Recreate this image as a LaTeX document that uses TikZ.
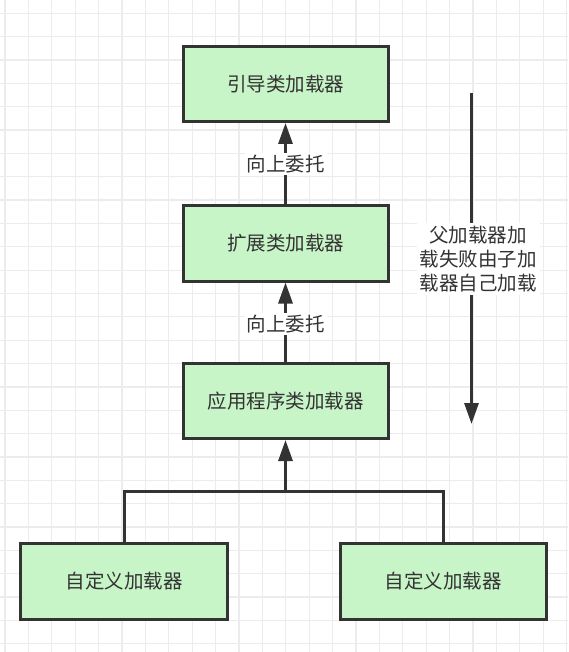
\documentclass[tikz,border=0pt]{standalone}
\usepackage{fontspec}
\newfontfamily\cjk{Noto Sans CJK SC}
\usetikzlibrary{arrows.meta}
\definecolor{boxfill}{HTML}{C8F5C8}
\definecolor{ink}{HTML}{333333}
\definecolor{gridc}{HTML}{ECECEC}
\tikzset{
  loader/.style={draw=ink, line width=3pt, fill=boxfill, minimum width=205pt, minimum height=75pt, inner sep=0pt, text=ink, font=\cjk\fontsize{19.5}{24}\selectfont},
  arr/.style={draw=ink, line width=3pt, -{Triangle[length=21pt,width=14pt]}},
  conn/.style={draw=ink, line width=3pt},
  lbl/.style={fill=white, text=ink, inner sep=2pt, font=\cjk\fontsize{19.5}{24}\selectfont}
}
\begin{document}
\begin{tikzpicture}[x=1pt,y=-1pt]
\useasboundingbox (0,0) rectangle (568,652);
\fill[white] (0,0) rectangle (568,652);
\foreach \i in {0,...,24} \draw[gridc, line width=1.2pt] ({5+23.4*\i},0) -- ({5+23.4*\i},652);
\foreach \j in {0,...,27} \draw[gridc, line width=1.2pt] (0,{13.3+23.35*\j}) -- (568,{13.3+23.35*\j});

\node[loader] (b1) at (285.5,84) {引导类加载器};
\node[loader] (b2) at (285.5,243.5) {扩展类加载器};
\node[loader] (b3) at (285.5,401) {应用程序类加载器};
\node[loader, minimum width=207pt, minimum height=76pt] (b4) at (124,581) {自定义加载器};
\node[loader, minimum width=206pt, minimum height=76pt] (b5) at (443,581) {自定义加载器};

\draw[arr] (b2.north) -- (b1.south) node[lbl, pos=0.5] (l1) {向上委托};
\draw[arr] (b3.north) -- (b2.south) node[lbl, pos=0.48] (l2) {向上委托};

\coordinate (j) at (285.5,491);
\draw[conn] (b4.north) |- (j) -| (b5.north);
\draw[arr] (j) -- (b3.south);

\coordinate (rs) at (471.5,93);
\coordinate (re) at (471.5,424);
\draw[arr] (rs) -- (re);
\node[lbl, align=center, inner sep=3pt] (rl) at (478,259) {父加载器加\\载失败由子加\\载器自己加载};
\end{tikzpicture}
\end{document}
